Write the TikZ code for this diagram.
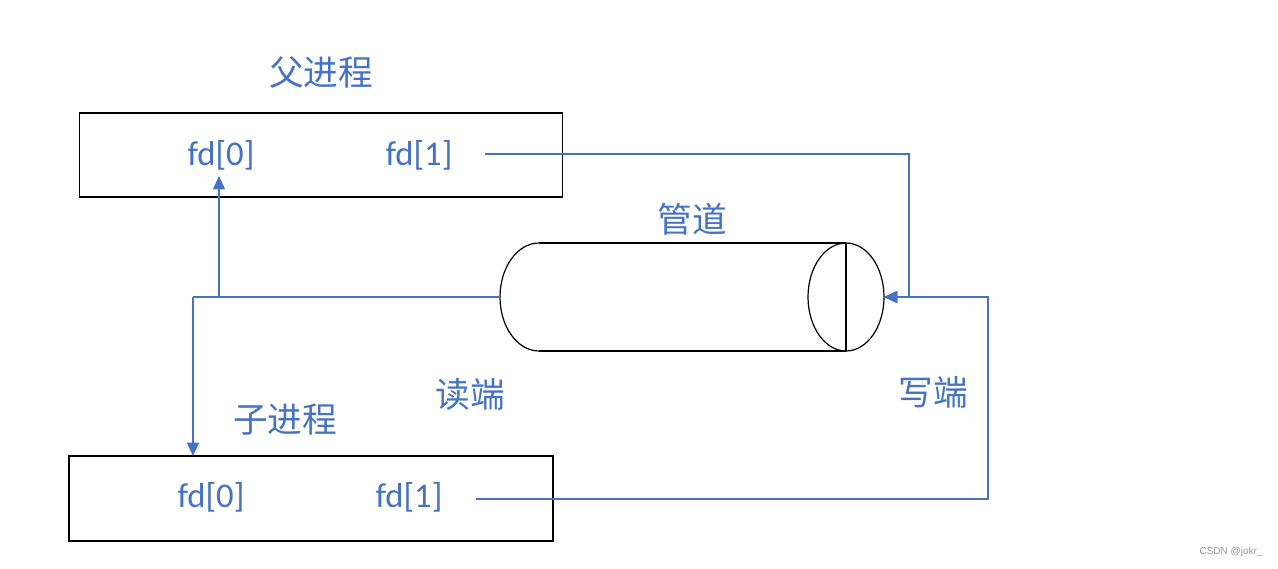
\documentclass[tikz,border=0pt]{standalone}
\usepackage{fontspec}
\setmainfont{Carlito}
\newfontfamily\cjk{Noto Sans CJK SC}
\newfontfamily\wm{Liberation Sans}
\usetikzlibrary{arrows.meta}
\definecolor{accent}{HTML}{4472C4}
\begin{document}
\begin{tikzpicture}[x=0.75pt,y=-0.75pt,
  procbox/.style={draw=black,line width=0.8pt,inner sep=0pt},
  lbl/.style={text=accent,font=\fontsize{26}{30}\selectfont,inner sep=0pt},
  cjklbl/.style={text=accent,font=\cjk\fontsize{26}{30}\selectfont,inner sep=0pt},
  conn/.style={draw=accent,line width=1.3pt},
  arr/.style={conn,-{Triangle[length=10pt,width=9pt]}},
  pipeline/.style={draw=black,line width=0.9pt}]
\useasboundingbox (0,0) rectangle (1278,568);
% boxes
\node[procbox,minimum width=362.25pt,minimum height=63pt] (pbox) at (321,155) {};
\node[procbox,minimum width=363pt,minimum height=63.75pt] (cbox) at (311,498.5) {};
% labels
\node[cjklbl] (ptitle) at (321,72) {父进程};
\node[cjklbl] (ctitle) at (285,420) {子进程};
\node[cjklbl] (pipetitle) at (692,219) {管道};
\node[cjklbl] (rend) at (470,394) {读端};
\node[cjklbl] (wend) at (933,392) {写端};
\node[lbl] (pfd0) at (221,155) {fd[0]};
\node[lbl] (pfd1) at (419,155) {fd[1]};
\node[lbl] (cfd0) at (211,497) {fd[0]};
\node[lbl] (cfd1) at (409,497) {fd[1]};
% pipe
\coordinate (pipeL) at (500,297);
\coordinate (pipeR) at (884,297);
\draw[pipeline] (539,243) -- (846,243);
\draw[pipeline] (539,351) -- (846,351);
\draw[pipeline] (539,243) arc[start angle=270,end angle=90,x radius=39,y radius=54];
\draw[pipeline] (846,297) ellipse[x radius=38,y radius=54];
\draw[pipeline] (846,243) -- (846,351);
% connectors
\coordinate (j1) at (219,297);
\coordinate (j2) at (193,297);
\coordinate (ctop) at (193,456);
\coordinate (ptop) at (219,176);
\coordinate (pfdout) at (485,154);
\coordinate (cfdout) at (476,499);
\coordinate (rt1) at (909,154);
\coordinate (rt2) at (988,499);
\draw[conn] (pipeL) -- (j2);
\draw[arr] (j2) -- (ctop);
\draw[arr] (j1) -- (ptop);
\draw[arr] (pfdout) -- (rt1) -- (rt1 |- pipeR) -- (pipeR);
\draw[arr] (cfdout) -- (rt2) -- (rt2 |- pipeR) -- (pipeR);
% watermark
\node[text=gray!80,font=\wm\fontsize{7.5}{9}\selectfont,inner sep=0pt] (mark) at (1231,552) {CSDN @jokr\_};
\end{tikzpicture}
\end{document}
